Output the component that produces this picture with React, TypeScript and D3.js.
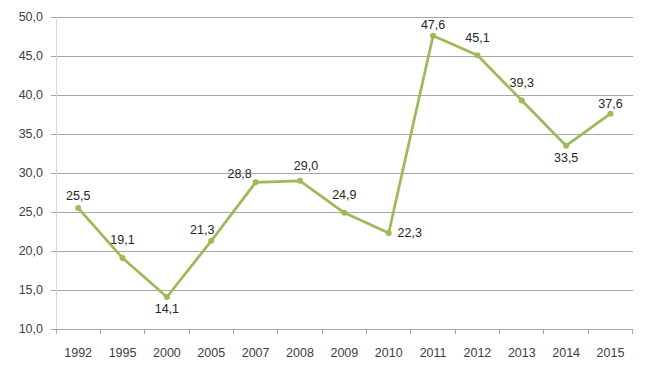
import React from "react";
import * as d3 from "d3";

const years = ["1992", "1995", "2000", "2005", "2007", "2008", "2009", "2010", "2011", "2012", "2013", "2014", "2015"];
const values = [25.5, 19.1, 14.1, 21.3, 28.8, 29.0, 24.9, 22.3, 47.6, 45.1, 39.3, 33.5, 37.6];
const yTicks = [10, 15, 20, 25, 30, 35, 40, 45, 50];

// label placement relative to each point (layout only)
const labelOffsets: [number, number][] = [
  [0, -8], [0, -14], [0, 16], [-9, -7], [-16, -4], [6, -11], [0, -13.5],
  [21, 4], [0, -6.5], [0, -13.5], [0, -13.5], [0, 16], [0, -5.5],
];

const W = 650, H = 377;
const left = 56, right = 632.7, top = 17, bottom = 329;
const fmt = (v: number) => v.toFixed(1).replace(".", ",");
const FONT = "'Liberation Sans', Arial, sans-serif";

export default function App() {
  const x = d3.scaleBand<string>().domain(years).range([left, right]);
  const y = d3.scaleLinear().domain([10, 50]).range([bottom, top]);
  const cx = (d: string) => (x(d) as number) + x.bandwidth() / 2;
  const line = d3.line<number>().x((_, i) => cx(years[i])).y((v) => y(v));
  const boundaries = years.map((d) => x(d) as number).concat([right]);

  return (
    <svg width={W} height={H} style={{ position: "absolute", left: 0, top: 0, background: "#fff" }} fontFamily={FONT}>
      {yTicks.map((t) => (
        <g key={t}>
          <line x1={left - 5} x2={right} y1={y(t)} y2={y(t)} stroke={t === 10 ? "#a6a6a6" : "#a6a6a6"} strokeWidth={1} shapeRendering="crispEdges" />
          <text x={43} y={y(t)} dy="0.35em" textAnchor="end" fontSize={12.5} fill="#404040">{fmt(t)}</text>
        </g>
      ))}
      <line x1={left} x2={left} y1={top} y2={bottom} stroke="#d9d9d9" strokeWidth={1} shapeRendering="crispEdges" />
      {boundaries.map((b, i) => (
        <line key={i} x1={b} x2={b} y1={bottom} y2={bottom + 5} stroke="#a6a6a6" strokeWidth={1} shapeRendering="crispEdges" />
      ))}
      {years.map((yr) => (
        <text key={yr} x={cx(yr)} y={357} textAnchor="middle" fontSize={12.5} fill="#404040">{yr}</text>
      ))}
      <path d={line(values) || ""} fill="none" stroke="#9bbb59" strokeWidth={2.75} strokeLinejoin="round" />
      {values.map((v, i) => (
        <circle key={i} cx={cx(years[i])} cy={y(v)} r={3} fill="#9bbb59" />
      ))}
      {values.map((v, i) => (
        <text key={"l" + i} x={cx(years[i]) + labelOffsets[i][0]} y={y(v) + labelOffsets[i][1]} textAnchor="middle" fontSize={12.5} fill="#262626">{fmt(v)}</text>
      ))}
    </svg>
  );
}
